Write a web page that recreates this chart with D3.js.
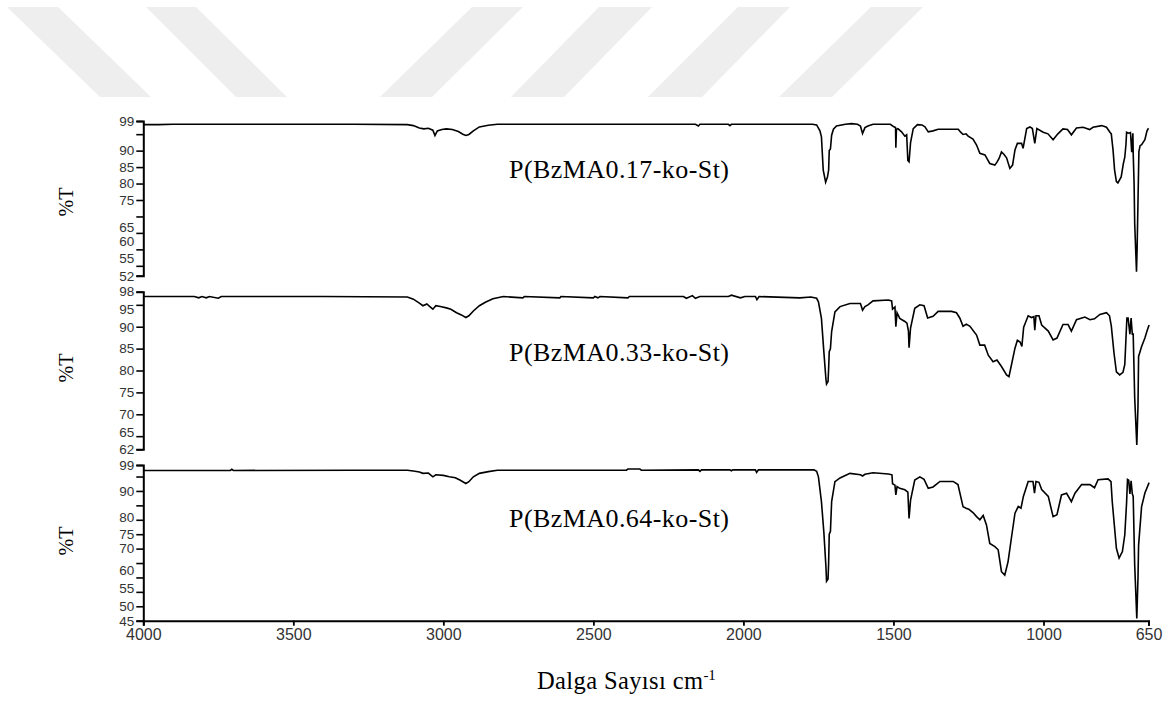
<!DOCTYPE html>
<html>
<head>
<meta charset="utf-8">
<script src="https://cdn.jsdelivr.net/npm/d3@7"></script>
<style>
  html, body { margin: 0; padding: 0; background: #fff; }
  svg { display: block; }
</style>
</head>
<body>
<svg id="chart" width="1174" height="701"></svg>
<script>
// FTIR spectra of the three copolymers: [wavenumber (cm-1), transmittance (%T)]
const spec017 = [
  [4000, 97.9], [3950, 97.9], [3900, 98.0], [3700, 98.0], [3500, 98.0], [3300, 98.0],
  [3120, 97.9], [3100, 97.6], [3080, 96.9], [3065, 96.6], [3050, 96.8], [3035, 96.2],
  [3028, 94.6], [3020, 96.0], [3005, 96.4], [2990, 96.6], [2970, 96.4], [2950, 95.8],
  [2935, 95.0], [2925, 94.6], [2915, 94.9], [2900, 96.0], [2880, 97.2], [2850, 97.7],
  [2820, 98.0], [2500, 98.0], [2160, 98.0], [2150, 97.5], [2145, 98.0], [2050, 98.0],
  [2045, 97.6], [2040, 98.0], [1812, 98.0], [1770, 98.0], [1756, 97.8], [1745, 96.0],
  [1740, 94.2], [1734, 84.1], [1726, 80.4], [1720, 82.0], [1716, 84.1], [1714, 90.0],
  [1710, 90.5], [1706, 94.7], [1700, 96.5], [1690, 97.5], [1660, 98.0], [1640, 98.2],
  [1620, 98.0], [1610, 97.5], [1603, 95.2], [1595, 97.0], [1585, 97.5], [1568, 98.0],
  [1510, 98.0], [1500, 97.3], [1493, 97.0], [1492, 90.9], [1490, 96.5], [1485, 96.7],
  [1473, 95.7], [1462, 94.4], [1456, 94.8], [1452, 87.0], [1448, 86.6], [1443, 92.4],
  [1434, 96.7], [1420, 97.9], [1405, 97.8], [1395, 97.2], [1384, 95.7], [1368, 96.0],
  [1351, 96.5], [1284, 96.5], [1276, 95.6], [1268, 94.9], [1258, 95.1], [1251, 94.4],
  [1235, 93.5], [1223, 91.7], [1212, 89.2], [1195, 88.7], [1179, 86.1], [1162, 85.6],
  [1155, 86.5], [1148, 87.6], [1140, 89.6], [1132, 88.9], [1123, 87.8], [1112, 84.6],
  [1103, 85.6], [1095, 90.2], [1087, 92.2], [1073, 92.2], [1068, 90.7], [1056, 96.7],
  [1045, 97.2], [1037, 96.7], [1029, 92.2], [1022, 96.7], [1001, 95.6], [985, 95.1],
  [968, 93.3], [952, 95.1], [935, 96.6], [920, 96.4], [907, 94.8], [890, 96.9],
  [868, 97.1], [846, 96.4], [835, 97.1], [806, 97.6], [790, 97.1], [778, 95.5],
  [774, 95.1], [768, 90.0], [763, 84.1], [757, 80.6], [752, 80.2], [741, 82.0],
  [734, 86.0], [729, 88.0], [725, 92.0], [723, 95.6], [717, 95.3], [710, 95.5],
  [706, 89.5], [702, 95.3], [701, 89.2], [698, 80.0], [696, 67.9], [690, 53.2],
  [688, 60.0], [685, 74.6], [682, 89.7], [678, 91.5], [673, 91.8], [662, 93.3],
  [655, 96.0], [650, 96.8]
];

const spec033 = [
  [4000, 96.9], [3830, 96.9], [3815, 96.6], [3805, 96.9], [3790, 96.6], [3780, 96.9],
  [3750, 96.5], [3740, 96.9], [3400, 96.9], [3120, 96.8], [3100, 96.3], [3080, 95.4],
  [3068, 94.8], [3055, 95.2], [3045, 94.6], [3035, 94.0], [3025, 94.8], [3010, 94.6],
  [2990, 94.3], [2975, 94.0], [2956, 93.2], [2940, 92.7], [2925, 92.1], [2915, 92.5],
  [2900, 93.6], [2880, 94.8], [2860, 95.6], [2835, 96.4], [2800, 96.9], [2735, 96.6],
  [2730, 96.9], [2612, 96.6], [2608, 96.9], [2500, 96.6], [2495, 96.9], [2485, 96.6],
  [2478, 96.9], [2385, 96.6], [2380, 96.9], [2200, 96.9], [2190, 96.5], [2170, 97.1],
  [2160, 96.5], [2145, 96.9], [2050, 96.9], [2040, 97.2], [2010, 96.6], [1995, 96.9],
  [1960, 96.9], [1955, 96.2], [1948, 96.9], [1812, 96.6], [1775, 96.8], [1756, 96.5],
  [1750, 95.7], [1740, 91.9], [1732, 84.3], [1725, 78.0], [1723, 76.9], [1718, 77.5],
  [1716, 80.5], [1714, 84.3], [1710, 85.0], [1706, 88.9], [1695, 93.4], [1678, 94.6],
  [1645, 95.3], [1610, 95.3], [1603, 93.8], [1595, 94.6], [1585, 95.0], [1568, 95.9],
  [1517, 96.1], [1506, 95.9], [1503, 94.0], [1495, 94.5], [1492, 90.0], [1488, 93.2],
  [1479, 91.9], [1462, 91.2], [1455, 90.8], [1450, 89.0], [1448, 85.2], [1443, 89.7],
  [1429, 94.2], [1412, 95.0], [1398, 94.8], [1386, 92.0], [1368, 92.4], [1351, 93.5],
  [1306, 93.5], [1290, 93.2], [1279, 92.0], [1268, 90.1], [1257, 90.6], [1245, 90.1],
  [1223, 88.1], [1212, 85.8], [1196, 85.8], [1184, 83.5], [1168, 82.0], [1155, 82.4],
  [1140, 80.9], [1123, 79.0], [1115, 78.6], [1107, 81.2], [1095, 85.1], [1087, 86.9],
  [1078, 86.5], [1072, 85.5], [1066, 89.9], [1051, 92.5], [1040, 92.1], [1032, 92.3],
  [1029, 89.2], [1025, 92.5], [1015, 92.5], [1006, 90.4], [984, 89.0], [968, 87.0],
  [955, 87.4], [935, 90.5], [918, 90.5], [907, 89.0], [890, 91.6], [862, 92.2],
  [845, 91.6], [830, 91.8], [812, 92.8], [790, 93.2], [780, 92.5], [774, 90.2],
  [765, 84.0], [757, 79.7], [746, 79.0], [735, 79.6], [729, 81.4], [725, 87.5],
  [722, 92.0], [718, 92.0], [712, 88.3], [708, 92.0], [704, 88.3], [701, 88.3],
  [696, 73.7], [689, 63.0], [685, 72.0], [683, 83.2], [673, 85.5], [662, 87.4],
  [655, 89.0], [648, 90.4]
];

const spec064 = [
  [4000, 97.1], [3710, 97.1], [3705, 97.5], [3700, 97.1], [3300, 97.2], [3120, 97.2],
  [3100, 96.9], [3080, 96.6], [3068, 96.1], [3050, 96.2], [3035, 94.9], [3025, 95.6],
  [3000, 95.4], [2980, 94.9], [2960, 94.6], [2945, 93.8], [2925, 92.6], [2915, 93.2],
  [2900, 94.9], [2880, 96.1], [2850, 96.7], [2820, 97.2], [2390, 97.2], [2385, 97.6],
  [2345, 97.6], [2340, 97.2], [2150, 97.3], [2145, 96.8], [2140, 97.3], [2045, 97.3],
  [2040, 97.0], [2035, 97.3], [1960, 97.3], [1956, 96.4], [1950, 97.3], [1812, 97.3],
  [1765, 97.3], [1756, 96.8], [1750, 94.9], [1740, 86.3], [1732, 75.8], [1725, 63.7],
  [1723, 58.7], [1718, 59.5], [1716, 65.0], [1714, 75.0], [1710, 76.0], [1706, 86.3],
  [1695, 93.2], [1678, 94.5], [1645, 96.1], [1610, 95.6], [1603, 95.2], [1595, 95.8],
  [1568, 96.3], [1517, 95.9], [1505, 95.6], [1503, 92.5], [1495, 92.0], [1492, 88.6],
  [1488, 91.5], [1479, 90.9], [1462, 90.4], [1452, 89.6], [1448, 80.5], [1443, 86.8],
  [1429, 93.8], [1412, 94.9], [1398, 94.0], [1384, 90.9], [1368, 91.4], [1345, 93.3],
  [1301, 93.3], [1285, 92.2], [1268, 84.5], [1258, 84.0], [1249, 83.7], [1235, 82.5],
  [1223, 81.1], [1212, 80.0], [1201, 81.5], [1190, 78.2], [1179, 71.8], [1162, 70.7],
  [1151, 69.6], [1140, 62.0], [1129, 60.8], [1118, 65.5], [1107, 73.6], [1095, 82.3],
  [1084, 84.6], [1075, 84.0], [1067, 88.1], [1051, 93.3], [1035, 93.3], [1030, 89.2],
  [1025, 93.3], [1015, 93.0], [1006, 90.5], [984, 88.1], [968, 81.1], [955, 81.8],
  [940, 88.6], [923, 89.2], [907, 86.3], [895, 89.2], [873, 92.2], [845, 92.2],
  [830, 91.1], [818, 93.9], [785, 94.2], [775, 93.2], [771, 86.5], [757, 70.1],
  [748, 66.7], [737, 69.0], [729, 74.8], [723, 86.0], [720, 94.0], [716, 93.7],
  [712, 89.0], [708, 93.5], [704, 89.0], [701, 88.1], [696, 64.3], [689, 45.8],
  [685, 60.0], [683, 71.2], [673, 84.6], [662, 89.3], [648, 92.9]
];

// Sample names
const sampleNames = ["P(BzMA0.17-ko-St)", "P(BzMA0.33-ko-St)", "P(BzMA0.64-ko-St)"];

// Transmittance axis ranges and ticks per panel
const tDomain017 = [52, 99];
const tDomain033 = [62, 98];
const tDomain064 = [45, 99];
const tTicks017 = [99, 95, 90, 85, 80, 75, 70, 65, 60, 55, 52];
const tTicks033 = [98, 95, 90, 85, 80, 75, 70, 65, 62];
const tTicks064 = [99, 95, 90, 85, 80, 75, 70, 65, 60, 55, 50, 45];
const tLabels017 = [99, 90, 85, 80, 75, 65, 60, 55, 52];
const tLabels033 = [98, 95, 90, 85, 80, 75, 70, 65, 62];
const tLabels064 = [99, 90, 80, 75, 70, 60, 55, 50, 45];

// Wavenumber axis
const wnDomain = [4000, 650];
const wnTicks = [4000, 3500, 3000, 2500, 2000, 1500, 1000, 650];

const yLabel = "%T";
const xLabelMain = "Dalga Sayısı cm";
const xLabelSup = "-1";

const svg = d3.select("#chart");

// faint diagonal stripes across the top of the page
const stripes = [
  [[7, 7], [58, 7], [151, 97], [100, 97]],
  [[146, 7], [196, 7], [287, 97], [236, 97]],
  [[472, 7], [523, 7], [432, 97], [380, 97]],
  [[599, 7], [652, 7], [564, 97], [511, 97]],
  [[738, 7], [790, 7], [702, 97], [648, 97]],
  [[871, 7], [923, 7], [832, 97], [779, 97]]
];
svg.append("g").selectAll("polygon").data(stripes).join("polygon")
  .attr("points", d => d.map(p => p.join(",")).join(" "))
  .attr("fill", "#eeeeee");

const left = 143.3, right = 1148.5;
const x = d3.scaleLinear().domain(wnDomain).range([left, right]);

// crowded tick labels are shifted a little off their ticks
const labelNudge = [
  { 65: -6, 60: -8, 55: -8 },
  { 98: -1, 95: 4, 65: -4 },
  { 80: -3, 60: -7, 55: -4 }
];

const panels = [
  { data: spec017, domain: tDomain017, range: [275.7, 121], ticks: tTicks017, labels: tLabels017,
    name: sampleNames[0], nameY: 178, titleY: 202 },
  { data: spec033, domain: tDomain033, range: [449.3, 291.7], ticks: tTicks033, labels: tLabels033,
    name: sampleNames[1], nameY: 360.5, titleY: 368 },
  { data: spec064, domain: tDomain064, range: [620.7, 465], ticks: tTicks064, labels: tLabels064,
    name: sampleNames[2], nameY: 526.5, titleY: 541 }
];

panels.forEach((p, i) => {
  const y = d3.scaleLinear().domain(p.domain).range(p.range);
  const axis = d3.axisLeft(y)
    .tickValues(p.ticks)
    .tickSize(7)
    .tickPadding(2)
    .tickFormat(v => p.labels.includes(v) ? String(v) : "");
  const g = svg.append("g").attr("transform", `translate(${left},0)`).call(axis);
  g.select(".domain").attr("stroke", "#000").attr("stroke-width", 2);
  g.selectAll(".tick line").attr("stroke", "#000").attr("stroke-width", 1.6);
  g.selectAll(".tick text")
    .attr("font-family", "'Liberation Sans', Arial, sans-serif")
    .attr("font-size", 13.5).attr("fill", "#333")
    .attr("y", v => labelNudge[i][v] || 0);

  const line = d3.line().x(d => x(d[0])).y(d => y(d[1]));
  svg.append("path").datum(p.data)
    .attr("d", line)
    .attr("fill", "none")
    .attr("stroke", "#000")
    .attr("stroke-width", 1.6)
    .attr("stroke-linejoin", "miter");

  svg.append("text")
    .attr("x", 509).attr("y", p.nameY)
    .attr("font-family", "'Liberation Serif', 'Times New Roman', serif")
    .attr("font-size", 26).attr("fill", "#000")
    .attr("textLength", 220).attr("lengthAdjust", "spacing")
    .text(p.name);

  svg.append("text")
    .attr("transform", `translate(73,${p.titleY}) rotate(-90)`)
    .attr("text-anchor", "middle")
    .attr("font-family", "'Liberation Serif', 'Times New Roman', serif")
    .attr("font-size", 20).attr("fill", "#000")
    .text(yLabel);
});

// wavenumber axis at the bottom
const xAxis = d3.axisBottom(x).tickValues(wnTicks).tickSize(5).tickPadding(3).tickFormat(d3.format("d"));
const gx = svg.append("g").attr("transform", "translate(0,620.7)").call(xAxis);
gx.select(".domain").attr("stroke", "#000").attr("stroke-width", 2);
gx.selectAll(".tick line").attr("stroke", "#000").attr("stroke-width", 1.8);
gx.selectAll(".tick text")
  .attr("font-family", "'Liberation Sans', Arial, sans-serif")
  .attr("font-size", 16).attr("fill", "#333");

const xt = svg.append("text")
  .attr("x", 537).attr("y", 689)
  .attr("font-family", "'Liberation Serif', 'Times New Roman', serif")
  .attr("font-size", 24.5).attr("fill", "#000");
xt.append("tspan").attr("textLength", 166).attr("lengthAdjust", "spacing").text(xLabelMain);
xt.append("tspan").attr("dy", -9).attr("font-size", 15).text(xLabelSup);
</script>
</body>
</html>
